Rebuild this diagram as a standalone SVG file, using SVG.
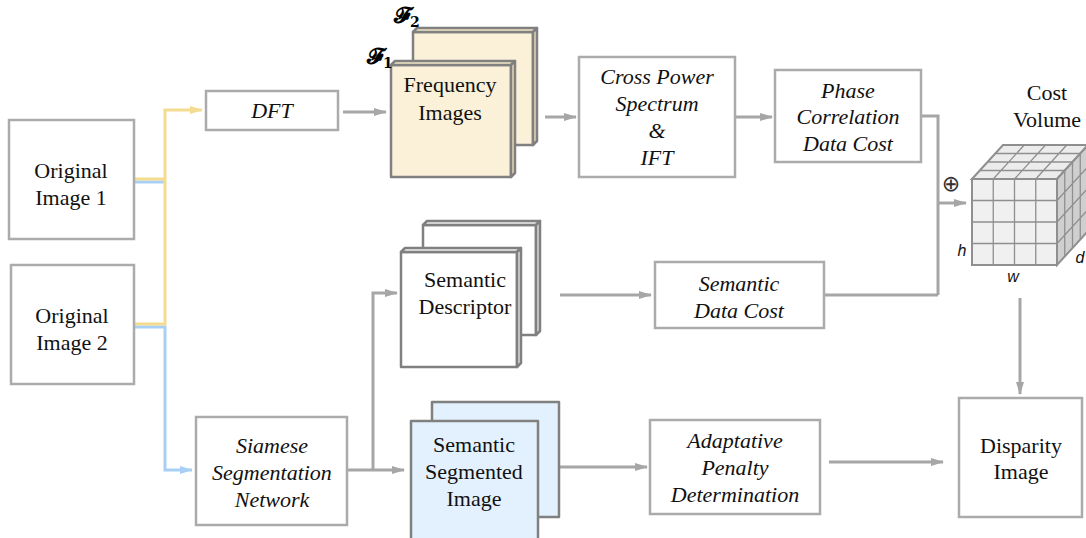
<svg xmlns="http://www.w3.org/2000/svg" width="1086" height="538" viewBox="0 0 1086 538">
<defs>
<marker id="ag" markerWidth="14" markerHeight="10" refX="12" refY="5" orient="auto" markerUnits="userSpaceOnUse"><path d="M0,1 L13,5 L0,9 Z" fill="#a6a6a6"/></marker>
<marker id="ay" markerWidth="14" markerHeight="10" refX="12" refY="5" orient="auto" markerUnits="userSpaceOnUse"><path d="M0,1 L13,5 L0,9 Z" fill="#f3dc90"/></marker>
<marker id="ab" markerWidth="14" markerHeight="10" refX="12" refY="5" orient="auto" markerUnits="userSpaceOnUse"><path d="M0,1 L13,5 L0,9 Z" fill="#a8d0f6"/></marker>
</defs>
<style>
.box{fill:#fff;stroke:#ababab;stroke-width:2.5}
.card{stroke:#808080;stroke-width:2.5;stroke-linejoin:round}
.t{font-family:'Liberation Serif','Times New Roman',Times,'DejaVu Serif',serif;font-size:22px;fill:#111;text-anchor:middle}
.i{font-style:italic}
.s{font-family:'Liberation Sans',Arial,sans-serif;font-style:italic;font-size:16px;fill:#111;text-anchor:middle}
.c{fill:none;stroke:#a6a6a6;stroke-width:3}
.y{fill:none;stroke:#f3dc90;stroke-width:3}
.b{fill:none;stroke:#a8d0f6;stroke-width:3}
.g{fill:none;stroke:#8f8f8f;stroke-width:1.3}
</style>
<rect width="1086" height="538" fill="#fff"/>

<g id="connectors">
<path class="b" d="M134,182 H165"/>
<path class="b" d="M134,327 H165 V470 H192" marker-end="url(#ab)"/>
<path class="y" d="M134,179 H165"/>
<path class="y" d="M134,324 H165 V110 H202" marker-end="url(#ay)"/>
<path class="c" d="M343,112 H386" marker-end="url(#ag)"/>
<path class="c" d="M545,117 H576" marker-end="url(#ag)"/>
<path class="c" d="M736,117 H772" marker-end="url(#ag)"/>
<path class="c" d="M921,116 H938 V295"/>
<path class="c" d="M825,295 H938"/>
<path class="c" d="M938,203 H966" marker-end="url(#ag)"/>
<path class="c" d="M348,470 H404" marker-end="url(#ag)"/>
<path class="c" d="M373,470 V293 H397" marker-end="url(#ag)"/>
<path class="c" d="M560,295 H651" marker-end="url(#ag)"/>
<path class="c" d="M560,467 H647" marker-end="url(#ag)"/>
<path class="c" d="M829,462 H943" marker-end="url(#ag)"/>
<path class="c" d="M1020,298 V394" marker-end="url(#ag)"/>
</g>

<g id="original1">
<rect class="box" x="9" y="120" width="125" height="119"/>
<text class="t" x="71" y="178">Original</text>
<text class="t" x="71" y="205">Image 1</text>
</g>
<g id="original2">
<rect class="box" x="11" y="265" width="123" height="119"/>
<text class="t" x="72" y="323">Original</text>
<text class="t" x="72" y="350">Image 2</text>
</g>

<g id="dft">
<rect class="box" x="206" y="91" width="132" height="39"/>
<text class="t i" x="272" y="118">DFT</text>
</g>

<g id="frequency">
<g fill="#faf1d8">
<rect class="card" x="413" y="32" width="120" height="113"/>
<polygon class="card" points="413,32 417,28 537,28 533,32" fill="#f2e6c6"/>
<polygon class="card" points="533,32 537,28 537,141 533,145" fill="#e3d6b2"/>
<rect class="card" x="391" y="65" width="120" height="112"/>
<polygon class="card" points="391,65 395,61 515,61 511,65" fill="#f2e6c6"/>
<polygon class="card" points="511,65 515,61 515,173 511,177" fill="#e3d6b2"/>
</g>
<text class="t" x="450" y="92">Frequency</text>
<text class="t" x="450" y="120">Images</text>
<text x="367" y="64" font-family="'DejaVu Serif',serif" font-weight="bold" font-size="22" fill="#000">𝓕<tspan font-size="14" dy="4">1</tspan></text>
<text x="394" y="23" font-family="'DejaVu Serif',serif" font-weight="bold" font-size="22" fill="#000">𝓕<tspan font-size="14" dy="4">2</tspan></text>
</g>

<g id="crosspower">
<rect class="box" x="579" y="57" width="156" height="120"/>
<text class="t i" x="657" y="84">Cross Power</text>
<text class="t i" x="657" y="111">Spectrum</text>
<text class="t i" x="657" y="138">&amp;</text>
<text class="t i" x="657" y="165">IFT</text>
</g>

<g id="phase">
<rect class="box" x="775" y="70" width="146" height="92"/>
<text class="t i" x="848" y="98">Phase</text>
<text class="t i" x="848" y="124">Correlation</text>
<text class="t i" x="848" y="151">Data Cost</text>
</g>

<g id="costvolume">
<text class="t" x="1047" y="100" font-size="20">Cost</text>
<text class="t" x="1047" y="127" font-size="20">Volume</text>
<text x="951" y="191" font-family="'DejaVu Sans',sans-serif" font-size="22" fill="#333" text-anchor="middle">⊕</text>
<polygon points="972,179 1003,145 1088,145 1057,179" fill="#ececec" stroke="#8f8f8f" stroke-width="2"/>
<polygon points="1057,179 1088,145 1088,231 1057,265" fill="#cfcfcf" stroke="#8f8f8f" stroke-width="2"/>
<rect x="972" y="179" width="85" height="86" fill="#f0f0f0" stroke="#8f8f8f" stroke-width="2"/>
<path class="g" d="M993.25,179V265M1014.5,179V265M1035.75,179V265M972,200.5H1057M972,222H1057M972,243.5H1057"/>
<path class="g" d="M993.25,179L1024.25,145M1014.5,179L1045.5,145M1035.75,179L1066.75,145M979.75,170.5H1064.75M987.5,162H1072.5M995.25,153.5H1080.25"/>
<path class="g" d="M1064.75,170.5V256.5M1072.5,162V248M1080.25,153.5V239.5M1057,200.5L1088,166.5M1057,222L1088,188M1057,243.5L1088,209.5"/>
<text class="s" x="962" y="256">h</text>
<text class="s" x="1013" y="282">w</text>
<text class="s" x="1080" y="263">d</text>
</g>

<g id="semdescriptor">
<g fill="#fff">
<rect class="card" x="423" y="225" width="113" height="110"/>
<polygon class="card" points="423,225 427,221 540,221 536,225" fill="#eee"/>
<polygon class="card" points="536,225 540,221 540,331 536,335" fill="#d8d8d8"/>
<rect class="card" x="401" y="252" width="116" height="115"/>
<polygon class="card" points="401,252 405,248 521,248 517,252" fill="#eee"/>
<polygon class="card" points="517,252 521,248 521,363 517,367" fill="#d8d8d8"/>
</g>
<text class="t" x="465" y="287">Semantic</text>
<text class="t" x="465" y="314">Descriptor</text>
</g>

<g id="semdatacost">
<rect class="box" x="655" y="262" width="169" height="66"/>
<text class="t i" x="739" y="291">Semantic</text>
<text class="t i" x="739" y="318">Data Cost</text>
</g>

<g id="siamese">
<rect class="box" x="196" y="417" width="151" height="108"/>
<text class="t i" x="272" y="453">Siamese</text>
<text class="t i" x="272" y="480">Segmentation</text>
<text class="t i" x="272" y="507">Network</text>
</g>

<g id="segmented">
<rect class="card" x="432" y="402" width="127" height="115" fill="#e3f0fd"/>
<rect class="card" x="411" y="421" width="127" height="122" fill="#e3f0fd"/>
<text class="t" x="474" y="452">Semantic</text>
<text class="t" x="474" y="479">Segmented</text>
<text class="t" x="474" y="506">Image</text>
</g>

<g id="adaptative">
<rect class="box" x="650" y="420" width="170" height="94"/>
<text class="t i" x="735" y="448">Adaptative</text>
<text class="t i" x="735" y="475">Penalty</text>
<text class="t i" x="735" y="502">Determination</text>
</g>

<g id="disparity">
<rect class="box" x="959" y="398" width="123" height="119"/>
<text class="t" x="1021" y="453">Disparity</text>
<text class="t" x="1021" y="479">Image</text>
</g>
</svg>
